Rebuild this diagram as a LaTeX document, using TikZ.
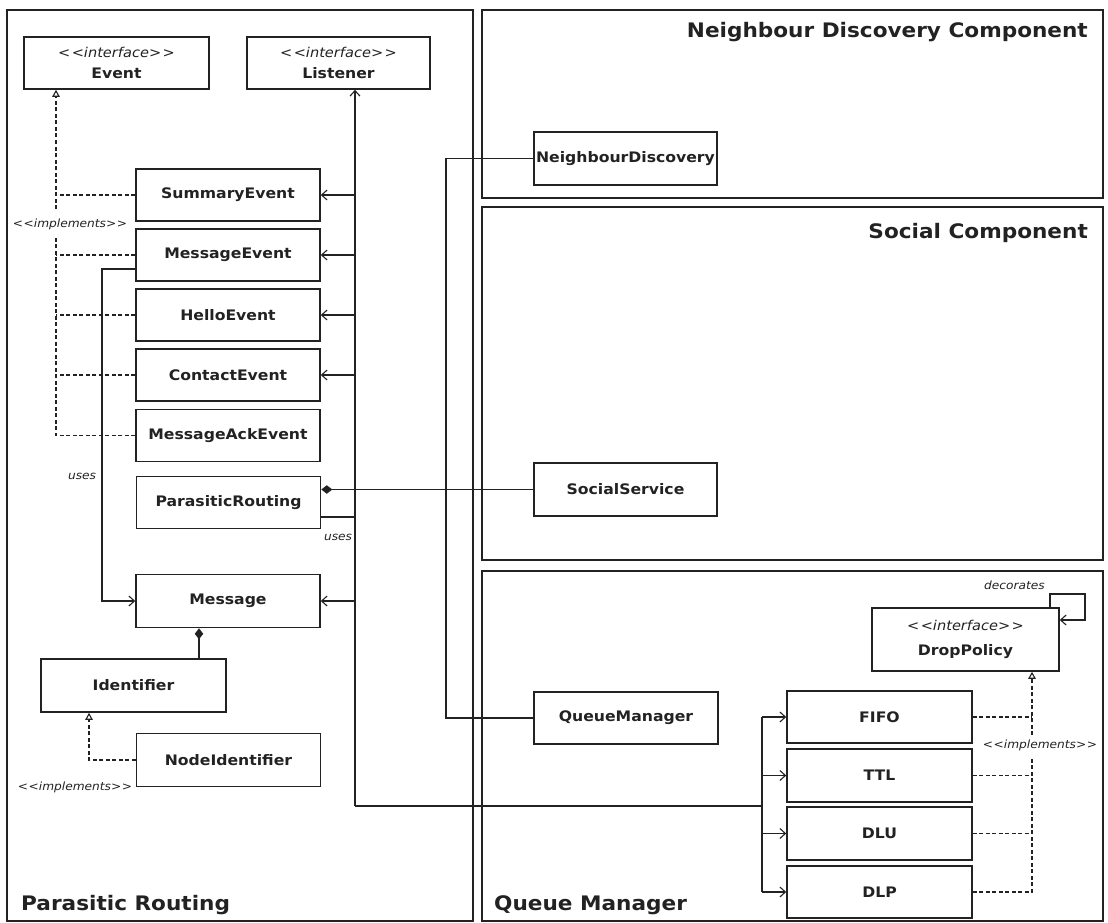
\documentclass[tikz,border=0pt]{standalone}
\usepackage{fontspec}
\setmainfont{DejaVu Sans}[FakeStretch=1.08]
\usetikzlibrary{arrows.meta}
\definecolor{ink}{HTML}{222222}
\newcommand{\stereo}{<\kern1.5pt<interface>\kern1.5pt>}
\newcommand{\implst}{<\kern0.5pt<implements>\kern0.5pt>}
\begin{document}
\begin{tikzpicture}[x=1pt,y=-1pt,
  panel/.style={draw=ink,line width=2.8pt},
  cls/.style={draw=ink,line width=1.6pt,minimum width=184pt,minimum height=52pt,inner sep=0pt,
     font=\bfseries\fontsize{14.5}{17}\selectfont,text=ink,fill=white},
  stname/.style={inner sep=0pt,font=\bfseries\fontsize{14.5}{17}\selectfont,text=ink},
  sttype/.style={inner sep=0pt,font=\mdseries\itshape\fontsize{13.5}{15}\selectfont,text=ink},
  ptitle/.style={font=\bfseries\fontsize{20}{23}\selectfont,text=ink,inner sep=0pt},
  lbl/.style={font=\itshape\fontsize{11.3}{13}\selectfont,text=ink,inner sep=0pt},
  conn/.style={draw=ink,line width=1.1pt},
  arr/.style={conn,-{Straight Barb[length=5.5pt,width=10pt]}},
  impl/.style={conn,dash pattern=on 4pt off 2.5pt},
  implarr/.style={impl,-{Triangle[open,length=7pt,width=7.5pt]}},
  comp/.style={conn,{Diamond[length=11pt,width=8.5pt]}-},
]
\useasboundingbox (0,0) rectangle (1108,923);
\fill[white] (0,0) rectangle (1108,923);

% panels
\draw[panel] (7,10) rectangle (473,921);
\draw[panel] (482,10) rectangle (1103,198);
\draw[panel] (482,207) rectangle (1103,560);
\draw[panel] (482,571) rectangle (1103,921);

\node[ptitle,anchor=base east] (tND) at (1088,38) {Neighbour Discovery Component};
\node[ptitle,anchor=base east] (tSC) at (1088,238) {Social Component};
\node[ptitle,anchor=base west] (tPR) at (21,910) {Parasitic Routing};
\node[ptitle,anchor=base west] (tQM) at (494,910) {Queue Manager};

% interface boxes
\node[cls,minimum width=185pt] (Event) at (116.5,63) {};
\node[sttype] (EventS) at (116.5,52) {\stereo};
\node[stname] (EventN) at (116.5,73) {Event};
\node[cls,minimum width=183pt] (Listener) at (338.5,63) {};
\node[sttype] (ListenerS) at (338.5,52) {\stereo};
\node[stname] (ListenerN) at (338.5,73) {Listener};

% classes
\node[cls] (SummaryEvent) at (228,195) {SummaryEvent};
\node[cls] (MessageEvent) at (228,255) {MessageEvent};
\node[cls] (HelloEvent) at (228,315) {HelloEvent};
\node[cls] (ContactEvent) at (228,375) {ContactEvent};
\node[cls] (MessageAckEvent) at (228,435.5) {MessageAckEvent};
\node[cls] (ParasiticRouting) at (228.5,502.5) {ParasiticRouting};
\node[cls,minimum height=53pt] (Message) at (228,601) {Message};
\node[cls,minimum width=185pt,minimum height=53pt] (Identifier) at (133.5,685.5) {Identifier};
\node[cls,minimum height=53pt] (NodeIdentifier) at (228.5,760) {NodeIdentifier};

\node[cls,minimum width=183pt,minimum height=53pt] (NeighbourDiscovery) at (625.5,158.5) {NeighbourDiscovery};
\node[cls,minimum width=183pt,minimum height=53pt] (SocialService) at (625.5,489.5) {SocialService};
\node[cls,minimum width=184pt] (QueueManager) at (626,718) {QueueManager};

\node[cls,minimum width=187pt,minimum height=63pt] (DropPolicy) at (965.5,639.5) {};
\node[sttype] (DropPolicyS) at (965.5,625) {\stereo};
\node[stname] (DropPolicyN) at (965.5,652) {DropPolicy};

\node[cls,minimum width=185pt] (FIFO) at (879.5,717) {FIFO};
\node[cls,minimum width=185pt,minimum height=53pt] (TTL) at (879.5,775.5) {TTL};
\node[cls,minimum width=185pt,minimum height=53pt] (DLU) at (879.5,833.5) {DLU};
\node[cls,minimum width=185pt,minimum height=52pt] (DLP) at (879.5,892) {DLP};

% implements: events -> Event
\coordinate (eiTop) at (56,209);
\coordinate (eiBot) at (56,236);
\draw[implarr] (eiTop) -- (eiTop |- Event.south);
\draw[impl] (MessageAckEvent.west) -| (eiBot);
\draw[impl] (SummaryEvent.west) -- (SummaryEvent.west -| eiTop);
\draw[impl] (MessageEvent.west) -- (MessageEvent.west -| eiTop);
\draw[impl] (HelloEvent.west) -- (HelloEvent.west -| eiTop);
\draw[impl] (ContactEvent.west) -- (ContactEvent.west -| eiTop);
\node[lbl] (implA) at (70,224) {\implst};

% listener bus
\coordinate (lb) at (355,806);
\draw[arr] (lb) -- (lb |- Listener.south);
\draw[arr] (SummaryEvent.east -| lb) -- (SummaryEvent.east);
\draw[arr] (MessageEvent.east -| lb) -- (MessageEvent.east);
\draw[arr] (HelloEvent.east -| lb) -- (HelloEvent.east);
\draw[arr] (ContactEvent.east -| lb) -- (ContactEvent.east);
\draw[arr] (Message.east -| lb) -- (Message.east);
\coordinate (prOut) at ([yshift=-14.5pt]ParasiticRouting.east);
\draw[conn] (prOut) -- (prOut -| lb);
\node[lbl] (usesB) at (338,537) {uses};

% queue bus
\coordinate (bus) at (762,806);
\draw[conn] (lb) -- (bus);
\draw[conn] (bus |- FIFO.west) -- (bus |- DLP.west);
\draw[arr] (bus |- FIFO.west) -- (FIFO.west);
\draw[arr] (bus |- TTL.west) -- (TTL.west);
\draw[arr] (bus |- DLU.west) -- (DLU.west);
\draw[arr] (bus |- DLP.west) -- (DLP.west);

% neighbour discovery -- queue manager
\coordinate (nq) at (446,0);
\draw[conn] (NeighbourDiscovery.west) -- (NeighbourDiscovery.west -| nq) -- (QueueManager.west -| nq) -- (QueueManager.west);

% MessageEvent uses Message
\coordinate (mu) at (102,0);
\coordinate (meOut) at ([yshift=-14pt]MessageEvent.west);
\draw[arr] (meOut) -- (meOut -| mu) -- (Message.west -| mu) -- (Message.west);
\node[lbl] (usesA) at (82,476) {uses};

% compositions
\coordinate (ci) at (199,0);
\draw[comp] (Message.south -| ci) -- (Identifier.north -| ci);
\draw[comp] (SocialService.west -| ParasiticRouting.east) -- (SocialService.west);

% NodeIdentifier implements Identifier
\coordinate (ni) at (89,0);
\draw[implarr] (NodeIdentifier.west) -| (Identifier.south -| ni);
\node[lbl] (implB) at (75,787) {\implst};

% drop policies implement DropPolicy
\coordinate (dp) at (1032,0);
\coordinate (dpTop) at (1032,735);
\coordinate (dpBot) at (1032,757);
\draw[implarr] (dpTop) -- (DropPolicy.south -| dp);
\draw[impl] (FIFO.east) -- (FIFO.east -| dp);
\draw[impl] (TTL.east) -- (TTL.east -| dp);
\draw[impl] (DLU.east) -- (DLU.east -| dp);
\draw[impl] (DLP.east) -| (dpBot);
\node[lbl] (implC) at (1040,745) {\implst};

% decorates loop
\coordinate (dl1) at (1050,594);
\coordinate (dl2) at (1085,620);
\draw[arr] (DropPolicy.north -| dl1) -- (dl1) -| (dl2) -- (dl2 -| DropPolicy.east);
\node[lbl,anchor=east] (decor) at (1045,585) {decorates};
\end{tikzpicture}
\end{document}
